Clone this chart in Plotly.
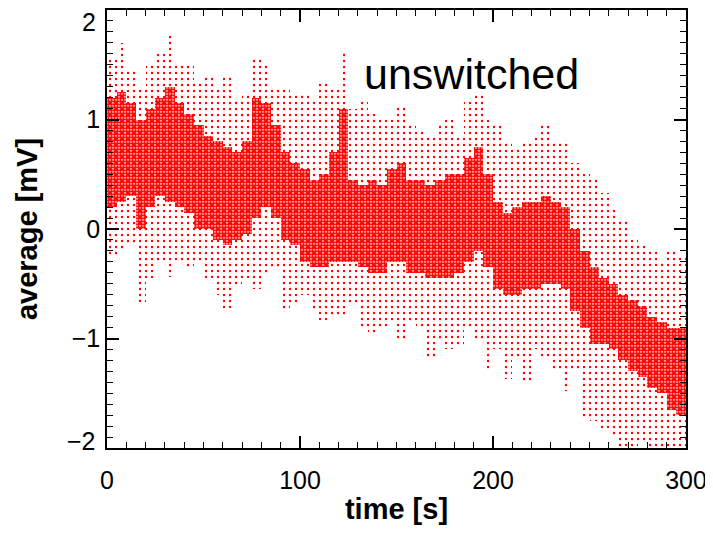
import plotly.graph_objects as go

# 5-second bins (start times)
bin_start = list(range(0, 300, 5))
# outer (sparse, scattered points) extent per bin
outer_lo = [-0.25, -0.20, -0.15, -0.67, -0.45, -0.30, -0.44, -0.30, -0.37, -0.30,
            -0.45, -0.60, -0.72, -0.50, -0.45, -0.55, -0.40, -0.35, -0.76, -0.70,
            -0.60, -0.75, -0.83, -0.80, -0.79, -0.70, -0.90, -0.96, -0.90, -0.85,
            -1.03, -0.85, -0.90, -1.17, -1.00, -1.10, -1.07, -0.90, -1.00, -1.28,
            -1.10, -1.37, -1.20, -1.41, -1.10, -1.20, -1.30, -1.48, -1.30, -1.73,
            -1.75, -1.82, -1.90, -2.00, -2.05, -1.95, -2.00, -2.05, -2.05, -2.05]
outer_hi = [1.55, 1.70, 1.45, 1.30, 1.50, 1.60, 1.77, 1.50, 1.50, 1.35,
            1.40, 1.30, 1.40, 1.20, 1.25, 1.55, 1.50, 1.30, 1.30, 1.25,
            1.24, 1.20, 1.34, 1.30, 1.61, 1.10, 1.20, 1.05, 1.00, 1.00,
            1.11, 0.95, 0.90, 0.85, 0.95, 1.00, 0.85, 1.20, 1.25, 1.00,
            0.95, 0.80, 0.75, 0.80, 0.85, 0.96, 0.80, 0.81, 0.60, 0.50,
            0.47, 0.33, 0.20, 0.10, -0.10, -0.15, -0.20, -0.30, -0.20, -0.25]
# dense core extent per bin
core_lo = [0.20, 0.25, 0.30, 0.00, 0.20, 0.30, 0.25, 0.20, 0.15, 0.00,
           0.00, -0.10, -0.15, -0.10, -0.05, 0.10, 0.20, 0.10, -0.10, -0.15,
           -0.30, -0.35, -0.35, -0.30, -0.30, -0.30, -0.35, -0.40, -0.40, -0.30,
           -0.30, -0.40, -0.40, -0.45, -0.45, -0.45, -0.40, -0.30, -0.20, -0.35,
           -0.55, -0.60, -0.60, -0.55, -0.55, -0.50, -0.50, -0.55, -0.75, -0.90,
           -1.05, -1.05, -1.10, -1.20, -1.30, -1.35, -1.45, -1.50, -1.65, -1.70]
core_hi = [1.20, 1.25, 1.15, 1.00, 1.10, 1.20, 1.30, 1.15, 1.05, 0.95,
           0.85, 0.80, 0.75, 0.70, 0.80, 1.20, 1.15, 0.95, 0.70, 0.60,
           0.55, 0.45, 0.50, 0.70, 1.10, 0.45, 0.40, 0.45, 0.40, 0.55,
           0.60, 0.45, 0.45, 0.40, 0.45, 0.50, 0.50, 0.65, 0.75, 0.50,
           0.25, 0.15, 0.20, 0.25, 0.25, 0.30, 0.25, 0.20, 0.00, -0.20,
           -0.35, -0.45, -0.50, -0.60, -0.65, -0.70, -0.80, -0.85, -0.90, -0.90]

x_tickvals = [0, 100, 200, 300]
y_tickvals = [-2, -1, 0, 1, 2]
y_ticktext = ["", "\u22121", "0", "1", ""]
# end labels placed as annotations (nudged inward as in the reference)
end_labels = [(2, "2", -12), (-2, "\u22122", 7)]

BIN = 5
x_mid = [b + BIN / 2 for b in bin_start]
outer_h = [h - l for l, h in zip(outer_lo, outer_hi)]
core_h = [h - l for l, h in zip(core_lo, core_hi)]

fig = go.Figure()
fig.add_trace(go.Bar(
    x=x_mid, y=outer_h, base=outer_lo, width=BIN,
    marker=dict(color="#ff0000", line=dict(width=0),
                pattern=dict(shape=".", size=6, solidity=0.12, fillmode="replace")),
    hoverinfo="skip", showlegend=False))
fig.add_trace(go.Bar(
    x=x_mid, y=core_h, base=core_lo, width=BIN,
    marker=dict(color="#ff0000", line=dict(width=0),
                pattern=dict(shape=".", size=3, solidity=0.75, fillmode="replace")),
    hoverinfo="skip", showlegend=False))

fig.add_annotation(x=188.6, y=1.42, xref="x", yref="y", text="unswitched",
                   showarrow=False, font=dict(family="Liberation Sans, Arial", size=43, color="black"))

tick_font = dict(family="Liberation Sans, Arial", size=25, color="black")
for val, txt, shift in end_labels:
    fig.add_annotation(x=0, xref="paper", y=val, yref="y", text=txt, showarrow=False,
                       xanchor="right", xshift=-9, yshift=shift, font=tick_font)

axis_common = dict(showline=True, linecolor="black", linewidth=1.5, mirror="allticks",
                   ticks="inside", ticklen=12, tickwidth=1.5, tickcolor="black",
                   showgrid=False, zeroline=False, automargin=False,
                   ticklabeloverflow="allow", tickfont=tick_font)

fig.update_xaxes(range=[0, 300], tickvals=x_tickvals, **axis_common, ticklabelstandoff=9,
                 minor=dict(ticks="inside", dtick=10, ticklen=6, tickwidth=1.2, tickcolor="black", showgrid=False),
                 title=dict(text="time [s]", standoff=6,
                            font=dict(family="Liberation Sans, Arial", size=29, color="black", weight="bold")))
fig.update_yaxes(range=[-2, 2], tickvals=y_tickvals, ticktext=y_ticktext, **axis_common,
                 minor=dict(ticks="inside", dtick=0.1, ticklen=6, tickwidth=1.2, tickcolor="black", showgrid=False),
                 title=dict(text="average [mV]", standoff=26,
                            font=dict(family="Liberation Sans, Arial", size=29, color="black", weight="bold")))

# page body has an 8px margin, so the figure is sized/offset to fill the 713x533 window
fig.update_layout(width=705, height=525, barmode="overlay", bargap=0,
                  margin=dict(l=99, r=27, t=2, b=85),
                  plot_bgcolor="white", paper_bgcolor="white")

fig.write_html("out.html")
